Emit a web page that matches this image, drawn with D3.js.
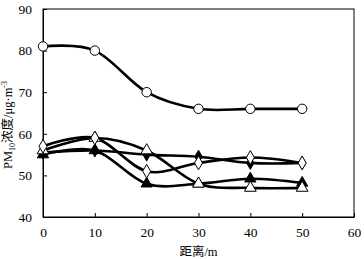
<!DOCTYPE html>
<html>
<head>
<meta charset="utf-8">
<script src="https://cdn.jsdelivr.net/npm/d3@7"></script>
<style>
  body { margin: 0; background: #fff; }
  text { font-family: "Liberation Serif", "Noto Sans CJK SC", serif; fill: #000; }
</style>
</head>
<body>
<div id="chart"></div>
<script>
// distance (m)
const distance = [0, 10, 20, 30, 40, 50];
// PM10 per site
const circleOpen = [81, 80, 70, 66, 66, 66];
const diamondFilled = [55.5, 56, 55, 54.5, 53, 53];
const diamondOpen = [57, 59, 51, 53, 54.3, 53];
const triFilled = [55, 56, 48, 48, 49.2, 48.2];
const triOpen = [56, 59, 56, 48, 47, 47];
const xTicks = [0, 10, 20, 30, 40, 50, 60];
const yTicks = [40, 50, 60, 70, 80, 90];

const W = 364, H = 259;
const margin = {top: 9, right: 10, bottom: 42, left: 43};
const width = W - margin.left - margin.right,
      height = H - margin.top - margin.bottom;

const svg = d3.select("#chart").append("svg").attr("width", W).attr("height", H);
const g = svg.append("g").attr("transform", `translate(${margin.left},${margin.top})`);

const x = d3.scaleLinear().domain([0, 60]).range([0, width]);
const y = d3.scaleLinear().domain([40, 90]).range([height, 0]);

// frame
g.append("rect").attr("width", width).attr("height", height)
  .attr("fill", "none").attr("stroke", "#000").attr("stroke-width", 1);

const xAxis = g.append("g").attr("transform", `translate(0,${height})`)
  .call(d3.axisBottom(x).tickValues(xTicks).tickSizeInner(-4).tickSizeOuter(0).tickPadding(10));
const yAxis = g.append("g")
  .call(d3.axisLeft(y).tickValues(yTicks).tickSizeInner(-4).tickSizeOuter(0).tickPadding(11));
[xAxis, yAxis].forEach(a => {
  a.select(".domain").attr("stroke", "#000");
  a.selectAll("line").attr("stroke", "#000");
  a.selectAll("text").style("font-size", "13.5px").style("font-family", "Liberation Serif");
});

const line = d3.line().x((d, i) => x(distance[i])).y(d => y(d)).curve(d3.curveCardinal.tension(0));

const series = [
  {vals: circleOpen, sym: d3.symbolCircle, size: 70, fill: "#fff"},
  {vals: diamondFilled, sym: d3.symbolDiamond, size: 48, fill: "#000"},
  {vals: triFilled, sym: d3.symbolTriangle, size: 55, fill: "#000"},
  {vals: triOpen, sym: d3.symbolTriangle, size: 60, fill: "#fff"},
  {vals: diamondOpen, sym: d3.symbolDiamond, size: 55, fill: "#fff"}
];

series.forEach(s => {
  g.append("path").datum(s.vals).attr("d", line)
    .attr("fill", "none").attr("stroke", "#000").attr("stroke-width", 2.6);
});
series.forEach(s => {
  g.selectAll(null).data(s.vals).enter().append("path")
    .attr("d", d3.symbol().type(s.sym).size(s.size))
    .attr("transform", (d, i) => `translate(${x(distance[i])},${y(d)})`)
    .attr("fill", s.fill).attr("stroke", "#000").attr("stroke-width", 1);
});

// axis titles
svg.append("text").attr("x", margin.left + width / 2).attr("y", 256)
  .attr("text-anchor", "middle").style("font-size", "12.5px").text("距离/m");

const yl = svg.append("text")
  .attr("transform", `translate(12,${125}) rotate(-90)`)
  .attr("text-anchor", "middle").style("font-size", "12.5px");
yl.append("tspan").text("PM");
yl.append("tspan").attr("dy", 3).style("font-size", "8px").text("10");
yl.append("tspan").attr("dy", -3).text("浓度/μg·m");
yl.append("tspan").attr("dy", -5).style("font-size", "8px").text("-3");
</script>
</body>
</html>
